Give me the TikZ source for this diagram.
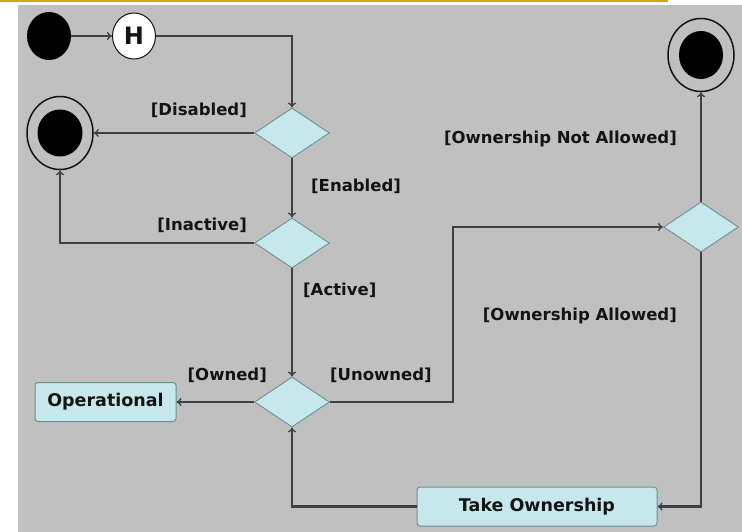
\documentclass[tikz,border=0pt]{standalone}
\usepackage{fontspec}
\setmainfont{DejaVu Sans}
\usetikzlibrary{shapes.geometric,arrows.meta}
\definecolor{bggrey}{HTML}{C0C0C0}
\definecolor{rulegold}{HTML}{D9A514}
\definecolor{flowline}{HTML}{404040}
\definecolor{boxfill}{HTML}{C6E8EC}
\definecolor{boxedge}{HTML}{6E8E92}
\definecolor{inkdark}{HTML}{141414}

\begin{document}
\begin{tikzpicture}[x=1pt,y=-1pt,
  flow/.style={draw=flowline, line width=2.6pt, -{To[length=5pt,width=8pt,line width=1.3pt]}},
  decision/.style={diamond, draw=boxedge, fill=boxfill, line width=0.9pt,
    minimum width=75pt, minimum height=50pt, inner sep=0pt},
  action/.style={rectangle, rounded corners=3pt, draw=boxedge, fill=boxfill,
    line width=1pt, minimum height=39pt,
    font=\fontsize{17.5}{20}\selectfont\bfseries, text=inkdark},
  guard/.style={font=\fontsize{16.5}{19}\selectfont\bfseries, text=inkdark, inner sep=0pt},
  startdot/.style={ellipse, fill=black, minimum width=44pt, minimum height=48pt, inner sep=0pt},
  endring/.style={ellipse, draw=inkdark, line width=1.5pt, minimum width=66pt,
    minimum height=73pt, inner sep=0pt},
  histnode/.style={ellipse, draw=inkdark, fill=white, line width=1pt,
    minimum width=43pt, minimum height=46pt, inner sep=0pt,
    font=\fontsize{24}{26}\selectfont\bfseries, text=inkdark}
]
\useasboundingbox (0,0) rectangle (742,532);
% page background, grey panel and top rule
\fill[white] (0,0) rectangle (742,532);
\fill[bggrey] (18,5) rectangle (742,532);
\draw[rulegold, line width=2.5pt] (0,1.2) -- (668,1.2);

% states and decisions
\node[startdot] (init) at (49,36) {};
\node[histnode] (hist) at (134,36) {H};
\node[decision] (d1) at (292,133) {};
\node[decision] (d2) at (292,243) {};
\node[decision] (d3) at (292,402) {};
\node[decision] (d4) at (701,227) {};
\node[endring] (f1) at (60,133) {};
\fill[black] (f1.center) ellipse [x radius=22.5, y radius=23.5];
\node[endring] (f2) at (701,55) {};
\fill[black] (f2.center) ellipse [x radius=22, y radius=24];
\node[action, minimum width=141pt] (op) at (105.5,402) {Operational};
\node[action, minimum width=240pt] (take) at (537,506.5) {Take Ownership};
\coordinate (bend) at (453,227);

% transitions
\draw[flow] (init) -- (hist);
\draw[flow] (hist) -| (d1);
\draw[flow] (d1) -- (f1);
\draw[flow] (d1) -- (d2);
\draw[flow] (d2) -| (f1);
\draw[flow] (d2) -- (d3);
\draw[flow] (d3.west) -- (op.east);
\draw[flow] (d3.east) -| (bend) -- (d4.west);
\draw[flow] (d4) -- (f2);
\draw[flow] (d4) |- (take);
\draw[flow] (take) -| (d3);

% guard labels
\node[guard, anchor=east] (lDis) at (247,110) {[Disabled]};
\node[guard, anchor=west] (lEn) at (311,186) {[Enabled]};
\node[guard, anchor=east] (lIn) at (247,225) {[Inactive]};
\node[guard, anchor=west] (lAc) at (303,290) {[Active]};
\node[guard, anchor=east] (lOw) at (267,375) {[Owned]};
\node[guard, anchor=west] (lUn) at (330,375) {[Unowned]};
\node[guard, anchor=east] (lNA) at (677,139) {[Ownership Not Allowed]};
\node[guard, anchor=east] (lAl) at (677,316) {[Ownership Allowed]};
\end{tikzpicture}
\end{document}
